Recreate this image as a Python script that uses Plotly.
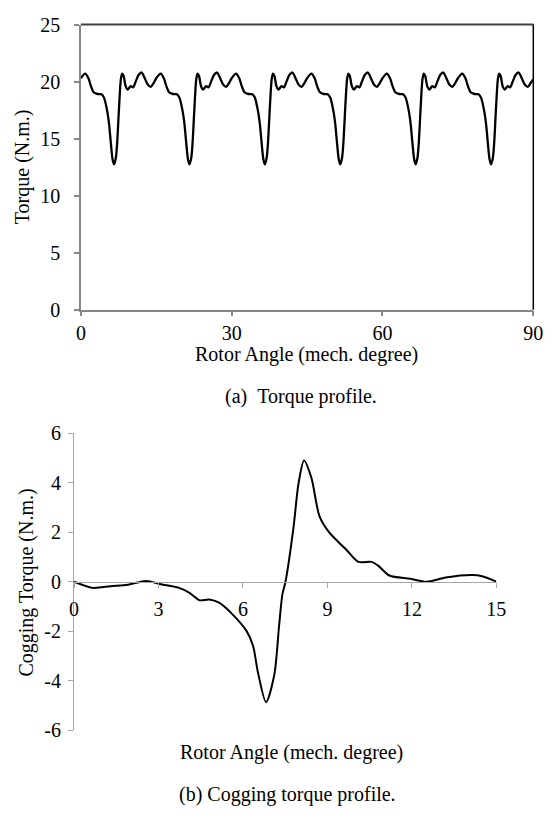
import plotly.graph_objects as go

# ---------------- Data ----------------
# (a) Torque profile, rotor angle (mech. degree) vs torque (N.m.)
torque_angle = [
    0, 0.85, 1.5, 2, 2.5, 3.1, 3.6, 4.1, 4.6, 5.2, 5.6, 5.9, 6.3, 6.6, 6.95, 7.2, 7.6, 7.95, 8.2, 8.5, 8.9, 9.3, 9.9, 10.4, 10.9, 11.5, 12.1, 12.7, 13.3, 13.9, 14.5,
    15, 15.85, 16.5, 17, 17.5, 18.1, 18.6, 19.1, 19.6, 20.2, 20.6, 20.9, 21.3, 21.6, 21.95, 22.2, 22.6, 22.95, 23.2, 23.5, 23.9, 24.3, 24.9, 25.4, 25.9, 26.5, 27.1, 27.7, 28.3, 28.9, 29.5,
    30, 30.85, 31.5, 32, 32.5, 33.1, 33.6, 34.1, 34.6, 35.2, 35.6, 35.9, 36.3, 36.6, 36.95, 37.2, 37.6, 37.95, 38.2, 38.5, 38.9, 39.3, 39.9, 40.4, 40.9, 41.5, 42.1, 42.7, 43.3, 43.9, 44.5,
    45, 45.85, 46.5, 47, 47.5, 48.1, 48.6, 49.1, 49.6, 50.2, 50.6, 50.9, 51.3, 51.6, 51.95, 52.2, 52.6, 52.95, 53.2, 53.5, 53.9, 54.3, 54.9, 55.4, 55.9, 56.5, 57.1, 57.7, 58.3, 58.9, 59.5,
    60, 60.85, 61.5, 62, 62.5, 63.1, 63.6, 64.1, 64.6, 65.2, 65.6, 65.9, 66.3, 66.6, 66.95, 67.2, 67.6, 67.95, 68.2, 68.5, 68.9, 69.3, 69.9, 70.4, 70.9, 71.5, 72.1, 72.7, 73.3, 73.9, 74.5,
    75, 75.85, 76.5, 77, 77.5, 78.1, 78.6, 79.1, 79.6, 80.2, 80.6, 80.9, 81.3, 81.6, 81.95, 82.2, 82.6, 82.95, 83.2, 83.5, 83.9, 84.3, 84.9, 85.4, 85.9, 86.5, 87.1, 87.7, 88.3, 88.9, 89.5,
    90,
]
torque_value = [
    20.3, 20.7, 20.3, 19.6, 19.1, 18.95, 18.9, 18.9, 18.6, 17.5, 16.3, 14.9, 13.2, 12.75, 13.3, 14.5, 17.8, 20.2, 20.7, 20.5, 19.6, 19.3, 19.6, 19.5, 20.0, 20.6, 20.8, 20.3, 19.75, 19.55, 19.9,
    20.3, 20.7, 20.3, 19.6, 19.1, 18.95, 18.9, 18.9, 18.6, 17.5, 16.3, 14.9, 13.2, 12.75, 13.3, 14.5, 17.8, 20.2, 20.7, 20.5, 19.6, 19.3, 19.6, 19.5, 20.0, 20.6, 20.8, 20.3, 19.75, 19.55, 19.9,
    20.3, 20.7, 20.3, 19.6, 19.1, 18.95, 18.9, 18.9, 18.6, 17.5, 16.3, 14.9, 13.2, 12.75, 13.3, 14.5, 17.8, 20.2, 20.7, 20.5, 19.6, 19.3, 19.6, 19.5, 20.0, 20.6, 20.8, 20.3, 19.75, 19.55, 19.9,
    20.3, 20.7, 20.3, 19.6, 19.1, 18.95, 18.9, 18.9, 18.6, 17.5, 16.3, 14.9, 13.2, 12.75, 13.3, 14.5, 17.8, 20.2, 20.7, 20.5, 19.6, 19.3, 19.6, 19.5, 20.0, 20.6, 20.8, 20.3, 19.75, 19.55, 19.9,
    20.3, 20.7, 20.3, 19.6, 19.1, 18.95, 18.9, 18.9, 18.6, 17.5, 16.3, 14.9, 13.2, 12.75, 13.3, 14.5, 17.8, 20.2, 20.7, 20.5, 19.6, 19.3, 19.6, 19.5, 20.0, 20.6, 20.8, 20.3, 19.75, 19.55, 19.9,
    20.3, 20.7, 20.3, 19.6, 19.1, 18.95, 18.9, 18.9, 18.6, 17.5, 16.3, 14.9, 13.2, 12.75, 13.3, 14.5, 17.8, 20.2, 20.7, 20.5, 19.6, 19.3, 19.6, 19.5, 20.0, 20.6, 20.8, 20.3, 19.75, 19.55, 19.9,
    20.2,
]

# (b) Cogging torque profile
cog_angle = [0, 0.66, 1.3, 1.92, 2.56, 3.08, 3.71, 4.1, 4.46, 4.8, 5.15, 5.61, 6.13, 6.36, 6.53,
             6.82, 7.11, 7.28, 7.4, 7.51, 7.8, 7.97, 8.17, 8.43, 8.72, 9.07, 9.64, 10.1, 10.57,
             10.8, 11.2, 11.95, 12.52, 13.2, 14.14, 14.5, 15]
cog_value = [0, -0.25, -0.18, -0.12, 0.03, -0.1, -0.24, -0.45, -0.75, -0.72, -0.85, -1.3, -2.0,
             -2.6, -3.66, -4.87, -3.78, -1.82, -0.51, 0, 2.24, 3.95, 4.9, 4.2, 2.64, 1.98, 1.33,
             0.8, 0.8, 0.65, 0.25, 0.12, 0.0, 0.17, 0.27, 0.22, 0]

top_xticks = [0, 30, 60, 90]
top_yticks = [0, 5, 10, 15, 20, 25]
bot_xticks = [0, 3, 6, 9, 12, 15]
bot_yticks = [-6, -4, -2, 0, 2, 4, 6]
bot_yticktext = ["-6", "-4", "-2", "0", "2", "4", "6"]

# ---------------- Figure ----------------
W, H = 554, 816
FONT = "Liberation Serif"

fig = go.Figure()
fig.add_trace(go.Scatter(x=torque_angle, y=torque_value, mode="lines",
                         line=dict(color="black", width=2.3, shape="spline", smoothing=0.8),
                         xaxis="x", yaxis="y", showlegend=False, hoverinfo="skip"))
fig.add_trace(go.Scatter(x=cog_angle, y=cog_value, mode="lines",
                         line=dict(color="black", width=2, shape="spline", smoothing=0.8),
                         xaxis="x2", yaxis="y2", showlegend=False, hoverinfo="skip"))

def px(x):
    return x / W

def py(y):
    return 1 - y / H

tick_font = dict(family=FONT, size=20, color="black")

fig.update_layout(
    width=W, height=H,
    margin=dict(l=0, r=0, t=0, b=0),
    paper_bgcolor="white", plot_bgcolor="white",
    font=dict(family=FONT, size=20, color="black"),
    xaxis=dict(domain=[px(78), px(543)], range=[0, 90], tickvals=top_xticks,
               showgrid=False, zeroline=False, showline=True, linecolor="#868686", linewidth=1.5,
               ticks="outside", ticklen=5, tickcolor="#868686", tickwidth=1.5,
               tickfont=tick_font, anchor="y", ticklabelstandoff=0),
    yaxis=dict(domain=[py(307), py(14)], range=[0, 25], tickvals=top_yticks,
               showgrid=False, zeroline=False, showline=True, linecolor="#868686", linewidth=1.5,
               ticks="outside", ticklen=5, tickcolor="#868686", tickwidth=1.5,
               tickfont=tick_font, anchor="x", ticklabelstandoff=10),
    xaxis2=dict(domain=[px(71), px(505)], range=[0, 15], tickvals=bot_xticks,
                showgrid=False, zeroline=False, showline=True, linecolor="#a6a6a6", linewidth=1.2,
                ticks="outside", ticklen=5, tickcolor="#a6a6a6", tickwidth=1.2,
                tickfont=tick_font, anchor="free", position=(py(739) + py(434)) / 2,
                ticklabelstandoff=4),
    yaxis2=dict(domain=[py(739), py(434)], range=[-6, 6], tickvals=bot_yticks, ticktext=bot_yticktext,
                showgrid=False, zeroline=False, showline=True, linecolor="#a6a6a6", linewidth=1.2,
                ticks="outside", ticklen=5, tickcolor="#a6a6a6", tickwidth=1.2,
                tickfont=tick_font, anchor="x2", ticklabelstandoff=3),
)

# frame of the top chart (top and right borders)
fig.add_shape(type="line", xref="x domain", yref="y domain", x0=0, x1=1, y0=1, y1=1,
              line=dict(color="#404040", width=2))
fig.add_shape(type="line", xref="x domain", yref="y domain", x0=1, x1=1, y0=0, y1=1,
              line=dict(color="black", width=1.5))

ann_font = dict(family=FONT, size=20, color="black")
annotations = [
    dict(text="Torque (N.m.)", x=px(18), y=py(160), textangle=-90),
    dict(text="Rotor Angle (mech. degree)", x=px(310), y=py(353)),
    dict(text="(a)\u00a0\u00a0Torque profile.", x=px(304), y=py(396)),
    dict(text="Cogging Torque (N.m.)", x=px(22), y=py(587), textangle=-90),
    dict(text="Rotor Angle (mech. degree)", x=px(294), y=py(762)),
    dict(text="(b) Cogging torque profile.", x=px(290), y=py(805)),
]
for a in annotations:
    fig.add_annotation(xref="paper", yref="paper", showarrow=False, font=ann_font,
                       xanchor="center", yanchor="middle", **a)

fig.write_html("out.html")
